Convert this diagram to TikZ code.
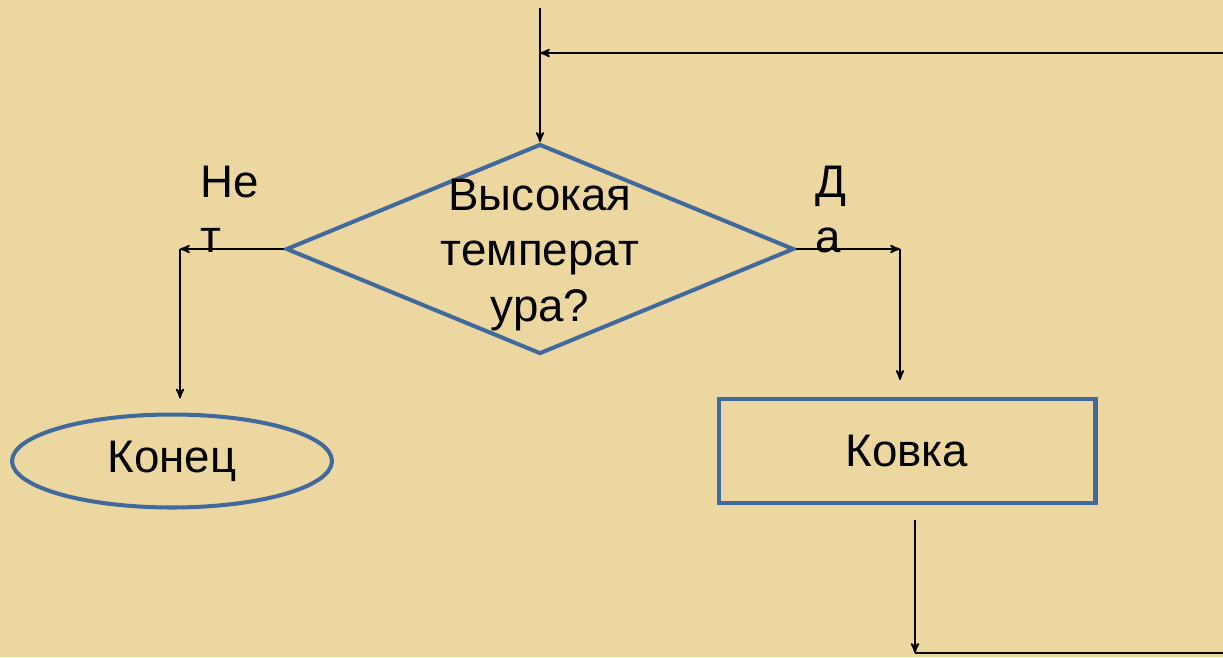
\documentclass[tikz,border=0pt]{standalone}
\usepackage{fontspec}
\setmainfont{Liberation Sans}
\usetikzlibrary{arrows,positioning,shapes.geometric}
\definecolor{parchment}{RGB}{236,215,160}
\definecolor{frameblue}{RGB}{65,105,155}
\tikzset{font=\fontsize{26}{31.5}\selectfont}
\tikzstyle{cond}=[diamond,draw=frameblue,line width=2.3pt,minimum width=10.16cm,minimum height=4.2cm,inner sep=0pt]
\tikzstyle{act}=[rectangle,draw=frameblue,line width=2.3pt,minimum width=7.54cm,minimum height=2.08cm]
\tikzstyle{term}=[ellipse,draw=frameblue,line width=2.3pt,minimum width=6.4cm,minimum height=1.86cm]
\tikzset{every picture/.style={line width=1pt}}

\begin{document}
\begin{tikzpicture}[x=0.02cm,y=-0.02cm]
\fill[parchment] (0,0) rectangle (1223,657);
\useasboundingbox (0,0) rectangle (1223,657);
\node[cond] (Q) at (540,249) {};
\node[align=center] (QT) at (540,255) {Высокая\\температ\\ура?};
\node[term] (E) at (172,461) {Конец};
\node[act] (K) at (907,451) {Ковка};
\node[align=left,anchor=north west] (N) at (194,159) {Не\\т};
\node[align=left,anchor=north west] (Y) at (809,159) {Д\\а};
%corners of the lines
\coordinate (T) at (540,8);
\coordinate (Tj) at (540,53);
\coordinate (Tr) at (1223,53);
\coordinate (Lc) at (180,249);
\coordinate (Rc) at (900,249);
\coordinate (Bc) at (915,653);
\coordinate (Br) at (1223,653);
\path[->,>=stealth']
(T) edge (Q.north)
(Tr) edge (Tj)
(Q.west) edge (Lc)
(Lc) edge [shorten >=0.28cm] (Lc |- E.north)
(Q.east) edge (Rc)
(Rc) edge [shorten >=0.34cm] (Rc |- K.north)
(Bc |- K.south) edge [shorten <=0.3cm] (Bc);
\draw (Bc) -- (Br);
\end{tikzpicture}
\end{document}
